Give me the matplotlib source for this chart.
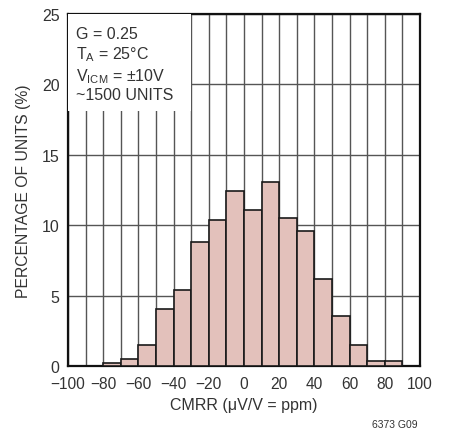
import numpy as np
import matplotlib
matplotlib.use('Agg')
import matplotlib.pyplot as plt
from matplotlib.patches import Rectangle

# histogram bins (left edges, ppm) and percentage of units
bin_edges = [-80, -70, -60, -50, -40, -30, -20, -10, 0, 10, 20, 30, 40, 50, 60, 70, 80, 90]
percent = [0.2, 0.5, 1.5, 4.1, 5.45, 8.85, 10.4, 12.45, 11.1, 13.05, 10.55, 9.6, 6.2, 3.6, 1.5, 0.35, 0.35]
xticks = [-100, -80, -60, -40, -20, 0, 20, 40, 60, 80, 100]
yticks = [0, 5, 10, 15, 20, 25]

plt.rcParams['font.family'] = ['Liberation Sans', 'DejaVu Sans']
txt = '#333333'

fig = plt.figure(figsize=(4.55, 4.35), dpi=100)
ax = fig.add_axes([0.1495, 0.1556, 0.7735, 0.81])

left = np.array(bin_edges[:-1])
width = np.diff(bin_edges)
ax.bar(left, percent, width=width, align='edge', color='#e3c1bb',
       edgecolor='#1a1a1a', linewidth=1.2, zorder=3)

ax.set_xlim(-100, 100)
ax.set_ylim(0, 25)
ax.set_xticks(xticks)
ax.set_xticklabels(['\u2212%d' % -t if t < 0 else str(t) for t in xticks])
ax.set_yticks(yticks)
ax.set_xticks(np.arange(-90, 100, 20), minor=True)
ax.grid(True, which='both', color='#555555', linewidth=1.0, zorder=0)
ax.tick_params(which='both', length=0, colors=txt)
ax.tick_params(axis='x', labelsize=11.2, pad=7)
ax.tick_params(axis='y', labelsize=11.5, pad=6)
for s in ax.spines.values():
    s.set_linewidth(1.6)
    s.set_color('#111111')

# white box behind annotation
ax.add_patch(Rectangle((-100, 18.1), 70, 6.9, facecolor='white', edgecolor='none', zorder=4))
ax.text(-95.5, 24.15, 'G = 0.25\n$\\mathregular{T_A}$ = 25\u00b0C\n$\\mathregular{V_{ICM}}$ = \u00b110V\n~1500 UNITS',
        va='top', ha='left', fontsize=11.5, color=txt, linespacing=1.22, zorder=5)

ax.set_xlabel('CMRR (\u03bcV/V = ppm)', fontsize=11.5, color=txt, labelpad=4)
ax.set_ylabel('PERCENTAGE OF UNITS (%)', fontsize=11.3, color=txt, labelpad=8)
fig.text(0.918, 0.015, '6373 G09', fontsize=7.5, color=txt, ha='right')

fig.savefig('out.png', dpi=100)
